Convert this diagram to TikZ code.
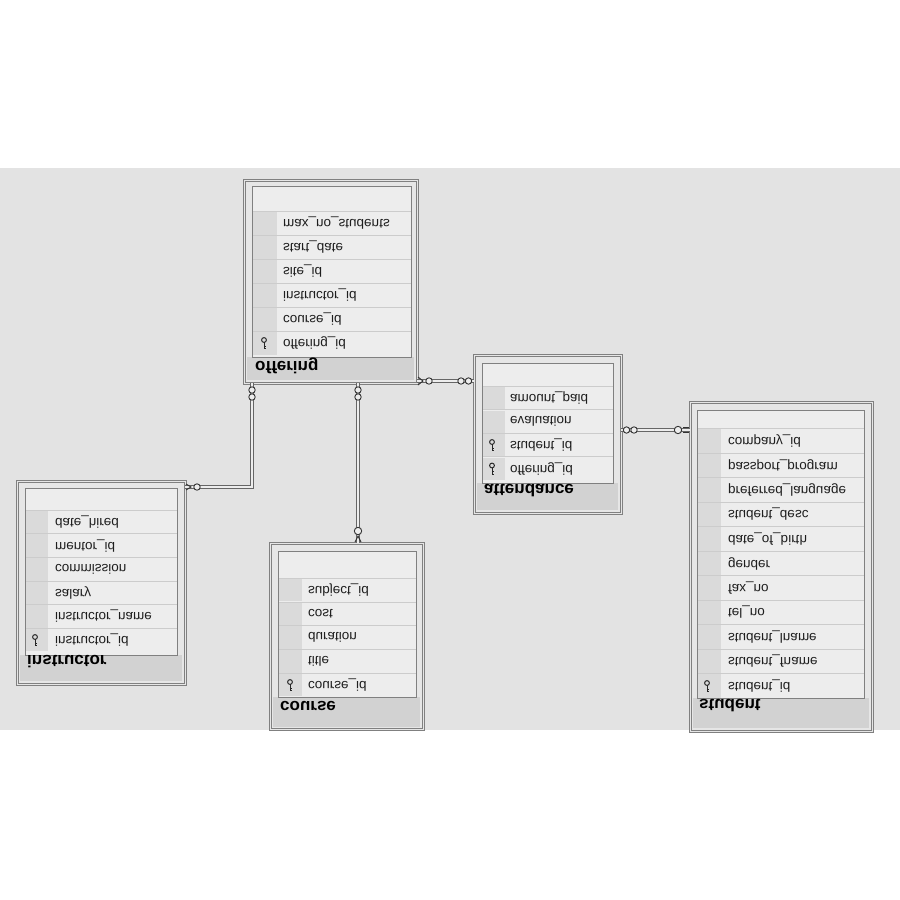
\documentclass[tikz,border=0pt]{standalone}
\usepackage{fontspec}
\setmainfont{Liberation Sans}
\definecolor{bg}{HTML}{E3E3E3}
\definecolor{boxbg}{HTML}{E6E6E6}
\definecolor{inbg}{HTML}{EDEDED}
\definecolor{keycell}{HTML}{DADADA}
\definecolor{band}{HTML}{D2D2D2}
\definecolor{edge}{HTML}{808080}
\definecolor{sepc}{HTML}{CCCCCC}
\definecolor{txt}{HTML}{1E1E1E}
\tikzset{
  outerbox/.style={draw=edge, double=boxbg, double distance=1.2pt, line width=0.7pt, fill=boxbg, inner sep=0pt, anchor=north west},
  innerbox/.style={draw=edge, line width=0.8pt, fill=inbg, inner sep=0pt, anchor=north west},
  field/.style={transform shape, anchor=west, inner sep=0pt, font=\fontsize{13.5}{14}\selectfont, text=txt},
  ttl/.style={transform shape, anchor=west, inner sep=0pt, font=\fontsize{17}{18}\selectfont\bfseries, text=black},
  sepline/.style={draw=sepc, line width=0.7pt},
  conn/.style={draw=black!60, double=inbg, double distance=1.5pt, line width=0.8pt},
  sym/.style={draw=black!80, fill=inbg, line width=0.9pt},
  symline/.style={draw=black!80, line width=0.9pt},
  keyicon/.pic={
    \draw[black!85, line width=1pt] (0,3) circle (2.4);
    \draw[black!85, line width=1pt] (0,0.6) -- (0,-5.5) -- (2.2,-5.5);
    \draw[black!85, line width=1pt] (0,-3) -- (2.2,-3);
  }
}
\begin{document}
\begin{tikzpicture}[x=1pt, y=1pt, yscale=-1]
\useasboundingbox (0,0) rectangle (900,900);
\fill[white] (0,0) rectangle (900,900);
\fill[bg] (0,168) rectangle (900,730);

% ---------------- offering ----------------
\node[outerbox, minimum width=173pt, minimum height=203pt] (offering) at (244,180) {};
\fill[band] (247,357) rectangle (414,380);
\node[innerbox, minimum width=159pt, minimum height=171pt] (offering-in) at (252,186) {};
\foreach \y/\t in {223/max\_no\_students, 247/start\_date, 271/site\_id, 295/instructor\_id, 319/course\_id, 343/offering\_id}{
  \fill[keycell] (253,\y-11.5) rectangle (277,\y+11.5);
  \draw[sepline] (253,\y-12) -- (410.5,\y-12);
  \node[field] at (283,\y) {\t};
}
\pic at (264,343) {keyicon};
\node[ttl] (offering-t) at (255,366) {offering};

% ---------------- attendance ----------------
\node[outerbox, minimum width=147pt, minimum height=158pt] (attendance) at (474,355) {};
\fill[band] (477,483) rectangle (618,510);
\node[innerbox, minimum width=131pt, minimum height=120pt] (attendance-in) at (482,363) {};
\foreach \y/\t in {398/amount\_paid, 421.5/evaluation, 445/student\_id, 468.5/offering\_id}{
  \fill[keycell] (483,\y-11) rectangle (505,\y+11);
  \draw[sepline] (483,\y-11.75) -- (612.5,\y-11.75);
  \node[field] at (510,\y) {\t};
}
\pic at (492,445) {keyicon};
\pic at (492,468.5) {keyicon};
\node[ttl] (attendance-t) at (484,491) {attendance};

% ---------------- instructor ----------------
\node[outerbox, minimum width=168pt, minimum height=203pt] (instructor) at (17,481) {};
\fill[band] (20,655) rectangle (182,681);
\node[innerbox, minimum width=152pt, minimum height=167pt] (instructor-in) at (25,488) {};
\foreach \y/\t in {522/date\_hired, 545.6/mentor\_id, 569.2/commission, 592.8/salary, 616.4/instructor\_name, 640/instructor\_id}{
  \fill[keycell] (26,\y-11.3) rectangle (48,\y+11.3);
  \draw[sepline] (26,\y-11.8) -- (176.5,\y-11.8);
  \node[field] at (55,\y) {\t};
}
\pic at (35,640) {keyicon};
\node[ttl] (instructor-t) at (27,662) {instructor};

% ---------------- course ----------------
\node[outerbox, minimum width=153pt, minimum height=186pt] (course) at (270,543) {};
\fill[band] (273,697) rectangle (420,727);
\node[innerbox, minimum width=138pt, minimum height=146pt] (course-in) at (278,551) {};
\foreach \y/\t in {590/subject\_id, 613.75/cost, 637.5/duration, 661.25/title, 685/course\_id}{
  \fill[keycell] (279,\y-11.4) rectangle (302,\y+11.4);
  \draw[sepline] (279,\y-11.9) -- (415.5,\y-11.9);
  \node[field] at (308,\y) {\t};
}
\pic at (290,685) {keyicon};
\node[ttl] (course-t) at (280,706) {course};

% ---------------- student ----------------
\node[outerbox, minimum width=182pt, minimum height=329pt] (student) at (690,402) {};
\fill[band] (693,698) rectangle (869,728);
\node[innerbox, minimum width=167pt, minimum height=288pt] (student-in) at (697,410) {};
\foreach \y/\t in {441/company\_id, 465.5/passport\_program, 490/preferred\_language, 514.5/student\_desc, 539/date\_of\_birth, 563.5/gender, 588/fax\_no, 612.5/tel\_no, 637/student\_lname, 661.5/student\_fname, 686/student\_id}{
  \fill[keycell] (698,\y-11.8) rectangle (721,\y+11.8);
  \draw[sepline] (698,\y-12.25) -- (863.5,\y-12.25);
  \node[field] at (728,\y) {\t};
}
\pic at (707,686) {keyicon};
\node[ttl] (student-t) at (699,706) {student};

% ---------------- connectors ----------------
\coordinate (c-oa1) at (417,381);
\coordinate (c-oa2) at (474,381);
\draw[conn] (c-oa1) -- (c-oa2);
\draw[symline] (418,377) -- (423,381) -- (418,385);
\draw[sym] (429,381) circle (3.2);
\draw[sym] (461,381) circle (3.2);
\draw[sym] (468.5,381) circle (3.2);

\coordinate (c-as1) at (621,430);
\coordinate (c-as2) at (690,430);
\draw[conn] (c-as1) -- (c-as2);
\draw[sym] (626.5,430) circle (3.2);
\draw[sym] (634,430) circle (3.2);
\draw[sym] (678,430) circle (3.7);
\draw[symline] (683,427.5) -- (689,427.5) (683,432.5) -- (689,432.5);

\coordinate (c-oi1) at (252,383);
\coordinate (c-oi2) at (185,487);
\draw[conn] (c-oi1) -- (252,487) -- (c-oi2);
\draw[sym] (252,390) circle (3.2);
\draw[sym] (252,397) circle (3.2);
\draw[symline] (186,484) -- (191,487) -- (186,490);
\draw[sym] (197,487) circle (3.2);

\coordinate (c-oc1) at (358,383);
\coordinate (c-oc2) at (358,543);
\draw[conn] (c-oc1) -- (c-oc2);
\draw[sym] (358,390) circle (3.2);
\draw[sym] (358,397) circle (3.2);
\draw[sym] (358,531) circle (3.7);
\draw[symline] (355,542) -- (358,536) -- (361,542);
\end{tikzpicture}
\end{document}
